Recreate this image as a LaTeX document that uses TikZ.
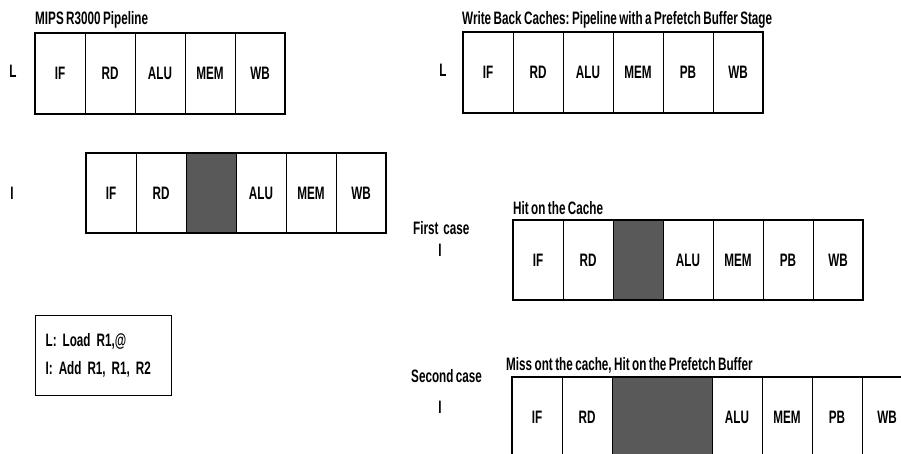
\documentclass[tikz,border=0pt]{standalone}
\usepackage{fontspec}
\setmainfont{Liberation Sans}[FakeStretch=0.65, WordSpace=0.75]
\usetikzlibrary{positioning}
\frenchspacing
\newcommand\stagefnt{\fontsize{18}{21}\selectfont\bfseries}

\begin{document}
\begin{tikzpicture}[
  x=1pt, y=-1pt,
  cell/.style={draw=black, line width=0.9pt, minimum width=50pt, minimum height=81pt,
               inner sep=0pt, outer sep=0pt, font=\stagefnt},
  stall/.style={cell, fill=black!65},
  frame/.style={draw=black, line width=1.6pt},
  ttl/.style={anchor=west, inner sep=0pt, font=\stagefnt},
  rowmark/.style={inner sep=0pt, font=\stagefnt},
  legend/.style={draw=black, line width=1.3pt, align=left, text width=116pt,
                 inner xsep=10pt, minimum height=80pt, font=\stagefnt}
]
  \clip (0,0) rectangle (901,454);

  % ========== LEFT: MIPS R3000 ==========
  \node[ttl] (mipsttl) at (35,20) {MIPS R3000 Pipeline};

  \node[rowmark] (mipsL) at (13,71) {L};
  \node[cell, anchor=north west] (lif) at (35,33) {IF};
  \node[cell, right=0pt of lif] (lrd) {RD};
  \node[cell, right=0pt of lrd] (lalu) {ALU};
  \node[cell, right=0pt of lalu] (lmem) {MEM};
  \node[cell, right=0pt of lmem] (lwb) {WB};
  \draw[frame] (lif.north west) rectangle (lwb.south east);

  \node[rowmark] (mipsI) at (12,193) {I};
  \node[cell, anchor=north west, minimum height=80pt] (iif) at (86,153) {IF};
  \node[cell, minimum height=80pt, right=0pt of iif] (ird) {RD};
  \node[stall, minimum height=80pt, right=0pt of ird] (istl) {};
  \node[cell, minimum height=80pt, right=0pt of istl] (ialu) {ALU};
  \node[cell, minimum height=80pt, right=0pt of ialu] (imem) {MEM};
  \node[cell, minimum height=80pt, right=0pt of imem] (iwb) {WB};
  \draw[frame] (iif.north west) rectangle (iwb.south east);

  \node[legend, anchor=north west] (instr) at (35,315)
    {L: Load R1,@\\[7pt] I: Add R1, R1, R2};

  % ========== RIGHT: prefetch buffer ==========
  \node[ttl] (wbttl) at (462,20) {Write Back Caches: Pipeline with a Prefetch Buffer Stage};

  \node[rowmark] (pbL) at (443,70) {L};
  \node[cell, anchor=north west] (pif) at (463,32) {IF};
  \node[cell, right=0pt of pif] (prd) {RD};
  \node[cell, right=0pt of prd] (palu) {ALU};
  \node[cell, right=0pt of palu] (pmem) {MEM};
  \node[cell, right=0pt of pmem] (ppb) {PB};
  \node[cell, right=0pt of ppb] (pwb) {WB};
  \draw[frame] (pif.north west) rectangle (pwb.south east);

  % ======== first case ========
  \node[ttl] (hitttl) at (513,208) {Hit on the Cache};
  \node[ttl] (case1) at (413,228) {First\ \ case};
  \node[rowmark] (hitI) at (440,250) {I};
  \node[cell, anchor=north west, minimum height=80pt] (hif) at (513,220) {IF};
  \node[cell, minimum height=80pt, right=0pt of hif] (hrd) {RD};
  \node[stall, minimum height=80pt, right=0pt of hrd] (hstl) {};
  \node[cell, minimum height=80pt, right=0pt of hstl] (halu) {ALU};
  \node[cell, minimum height=80pt, right=0pt of halu] (hmem) {MEM};
  \node[cell, minimum height=80pt, right=0pt of hmem] (hpb) {PB};
  \node[cell, minimum height=80pt, right=0pt of hpb] (hwb) {WB};
  \draw[frame] (hif.north west) rectangle (hwb.south east);

  % ======== second case ========
  \node[ttl] (missttl) at (506,365) {Miss ont the cache, Hit on the Prefetch Buffer};
  \node[ttl] (case2) at (411,376) {Second case};
  \node[rowmark] (missI) at (440,407) {I};
  \node[cell, anchor=north west, minimum height=80pt] (mif) at (512,377) {IF};
  \node[cell, minimum height=80pt, right=0pt of mif] (mrd) {RD};
  \node[stall, minimum height=80pt, minimum width=100pt, right=0pt of mrd] (mstl) {};
  \node[cell, minimum height=80pt, right=0pt of mstl] (malu) {ALU};
  \node[cell, minimum height=80pt, right=0pt of malu] (mmem) {MEM};
  \node[cell, minimum height=80pt, right=0pt of mmem] (mpb) {PB};
  \node[cell, minimum height=80pt, right=0pt of mpb] (mwb) {WB};
  \draw[frame] (mif.north west) rectangle (mwb.south east);

\end{tikzpicture}
\end{document}
